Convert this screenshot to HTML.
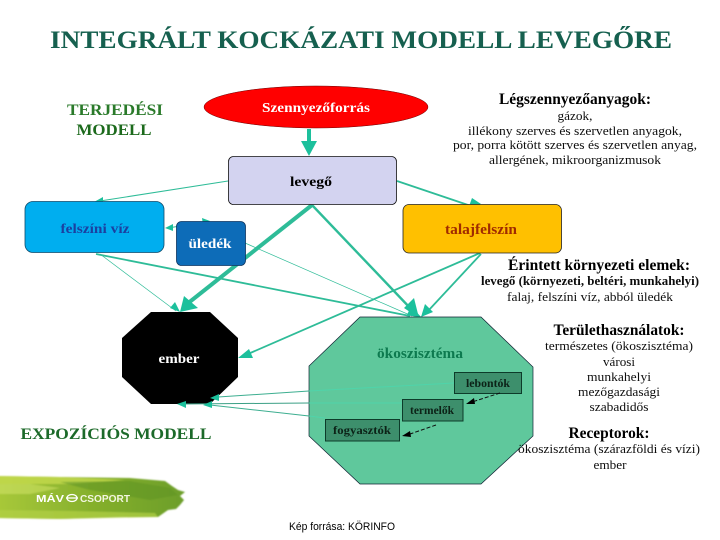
<!DOCTYPE html>
<html>
<head>
<meta charset="utf-8">
<style>
html,body{margin:0;padding:0;background:#fff;width:720px;height:540px;overflow:hidden}
svg{display:block}
text{font-family:"Liberation Serif",serif;text-anchor:middle}
.b{font-weight:bold}
.s{font-family:"Liberation Sans",sans-serif}
.l{stroke:#2fbc98;fill:none}
.a{fill:#1fc09c}
.t{font-size:13px;fill:#111}
.h{font-size:15.5px;font-weight:bold;fill:#000}
</style>
</head>
<body>
<svg width="720" height="540" viewBox="0 0 720 540" xmlns="http://www.w3.org/2000/svg">
<defs>
<linearGradient id="g" x1="0" y1="0" x2="1" y2="0">
<stop offset="0" stop-color="#a9c93a"/><stop offset=".5" stop-color="#86b02c"/><stop offset="1" stop-color="#6c9e2a"/>
</linearGradient>
<filter id="bl" x="-2%" y="-2%" width="104%" height="104%"><feGaussianBlur stdDeviation=".25"/></filter>
<filter id="bl2" x="-5%" y="-20%" width="110%" height="140%"><feGaussianBlur stdDeviation=".9"/></filter>
</defs>

<g filter="url(#bl)">
<text x="361" y="48" class="b" font-size="25" fill="#14614f" textLength="622" lengthAdjust="spacingAndGlyphs">INTEGRÁLT KOCKÁZATI MODELL LEVEGŐRE</text>
<text x="115" y="115" class="b" font-size="16" fill="#2a7a2a" textLength="96" lengthAdjust="spacingAndGlyphs">TERJEDÉSI</text>
<text x="114" y="135" class="b" font-size="16" fill="#1f6b1f" textLength="75" lengthAdjust="spacingAndGlyphs">MODELL</text>
<text x="116" y="439" class="b" font-size="16" fill="#1f6b2a" textLength="191" lengthAdjust="spacingAndGlyphs">EXPOZÍCIÓS MODELL</text>

<!-- connectors under shapes -->
<line x1="228" y1="181" x2="100" y2="201" class="l" stroke-width="1"/>
<polygon class="a" points="94,202 103,197 103,203"/>
<line x1="168" y1="228" x2="205" y2="222" class="l" stroke-width="1"/>
<polygon class="a" points="165,228 173,224 173,231"/>
<polygon class="a" points="210,221 202,218 203,225"/>

<line x1="96" y1="254" x2="410" y2="316" class="l" stroke-width="1.8"/>
<line x1="100" y1="254" x2="176" y2="311" class="l" stroke-width=".7"/>
<polygon class="a" points="180,312 170,308 175,302"/>
<line x1="245" y1="243" x2="412" y2="316" class="l" stroke-width=".7"/>
<polygon class="a" points="422,318 407,315 411,306"/>

<line x1="312" y1="205" x2="187" y2="304" class="l" stroke-width="4"/>
<polygon class="a" points="180,312 184,296 198,308"/>
<line x1="312" y1="205" x2="412" y2="310" class="l" stroke-width="2.4"/>
<polygon class="a" points="419,318 404,308 414,298"/>
<line x1="481" y1="254" x2="428" y2="311" class="l" stroke-width="1.8"/>
<polygon class="a" points="421,317 425,304 433,312"/>
<line x1="480" y1="253" x2="248" y2="354" class="l" stroke-width="1.8"/>
<polygon class="a" points="238,358 249,349 253,358"/>
<line x1="397" y1="181" x2="474" y2="207" class="l" stroke-width="1.8"/>
<polygon class="a" points="481,204 468,209 472,198"/>
<line x1="309" y1="129" x2="309" y2="143" stroke="#1fc09c" stroke-width="4"/>
<polygon class="a" points="301,141 317,141 309,156"/>

<!-- shapes -->
<ellipse cx="316" cy="107" rx="112" ry="21" fill="#f00" stroke="#600" stroke-width=".5"/>
<text x="316" y="112" class="b" font-size="14" fill="#fff" textLength="108" lengthAdjust="spacingAndGlyphs">Szennyezőforrás</text>

<rect x="228.500" y="156.500" width="168" height="48" rx="5" fill="#d3d3f0" stroke="#111" stroke-width=".8"/>
<text x="311" y="186" class="b" font-size="14" fill="#000" textLength="42" lengthAdjust="spacingAndGlyphs">levegő</text>

<rect x="25" y="201.500" width="139" height="51" rx="8" fill="#00aeef" stroke="#0b4a6a" stroke-width=".8"/>
<text x="95" y="233" class="b" font-size="14" fill="#1a3fa0" textLength="69" lengthAdjust="spacingAndGlyphs">felszíni víz</text>

<rect x="176.500" y="221.500" width="69" height="44" rx="5" fill="#0f6cb8" stroke="#0a3560" stroke-width=".8"/>
<text x="210" y="248" class="b" font-size="14" fill="#fff" textLength="43" lengthAdjust="spacingAndGlyphs">üledék</text>

<rect x="403" y="204.500" width="158.500" height="48.500" rx="6" fill="#ffc000" stroke="#222" stroke-width=".8"/>
<text x="481" y="234" class="b" font-size="14.500" fill="#a02a00" textLength="72" lengthAdjust="spacingAndGlyphs">talajfelszín</text>

<polygon points="151,312 210,312 238,338 238,377 210,404 151,404 122,377 122,338" fill="#000"/>
<text x="179" y="363" class="b" font-size="14" fill="#fff" textLength="41" lengthAdjust="spacingAndGlyphs">ember</text>

<polygon points="360,317 481,317 533,367 533,436 481,484 360,484 309,436 309,366" fill="#5fc89c" stroke="#123" stroke-width=".7"/>
<text x="420" y="358" class="b" font-size="15" fill="#0f7a50" textLength="86" lengthAdjust="spacingAndGlyphs">ökoszisztéma</text>

<!-- eco to ember -->
<line x1="309" y1="391" x2="218" y2="397" stroke="#3cae90" stroke-width="1"/>
<line x1="454" y1="383" x2="309" y2="391" stroke="#4fd4aa" stroke-width="1"/>
<polygon class="a" points="210,398 219,394 219,401"/>
<line x1="309" y1="403" x2="183" y2="404" stroke="#3a9f85" stroke-width="1"/>
<line x1="402" y1="403" x2="309" y2="403" stroke="#4fd4aa" stroke-width="1"/>
<polygon class="a" points="177,404 186,401 186,408"/>
<line x1="309" y1="416" x2="210" y2="405" stroke="#3cae90" stroke-width="1"/>
<line x1="325" y1="418" x2="309" y2="416" stroke="#4fd4aa" stroke-width="1"/>
<polygon class="a" points="203,405 212,401 212,408"/>

<rect x="454.500" y="372.500" width="67" height="21" fill="#3c8f6c" stroke="#0e3a2c"/>
<text x="488" y="387" class="b" font-size="11.500" fill="#0a2018" textLength="44" lengthAdjust="spacingAndGlyphs">lebontók</text>
<rect x="402.500" y="399.500" width="60.500" height="21.500" fill="#3c8f6c" stroke="#0e3a2c"/>
<text x="432" y="414" class="b" font-size="11.500" fill="#0a2018" textLength="44" lengthAdjust="spacingAndGlyphs">termelők</text>
<rect x="325.500" y="419.500" width="74" height="21.500" fill="#3c8f6c" stroke="#0e3a2c"/>
<text x="362" y="434" class="b" font-size="11.500" fill="#0a2018" textLength="58" lengthAdjust="spacingAndGlyphs">fogyasztók</text>

<line x1="500" y1="393" x2="472" y2="402" stroke="#111" stroke-width="1" stroke-dasharray="4 2"/>
<polygon points="466,404 474,398 475,404" fill="#000"/>
<line x1="436" y1="425" x2="410" y2="434" stroke="#111" stroke-width="1" stroke-dasharray="4 2"/>
<polygon points="402,436 410,431 411,437" fill="#000"/>

<!-- right-side text -->
<text x="575" y="104" class="h" textLength="152" lengthAdjust="spacingAndGlyphs">Légszennyezőanyagok:</text>
<text x="575" y="120" class="t" textLength="35" lengthAdjust="spacingAndGlyphs">gázok,</text>
<text x="575" y="135" class="t" textLength="214" lengthAdjust="spacingAndGlyphs">illékony szerves és szervetlen anyagok,</text>
<text x="575" y="149" class="t" textLength="244" lengthAdjust="spacingAndGlyphs">por, porra kötött szerves és szervetlen anyag,</text>
<text x="575" y="164" class="t" textLength="172" lengthAdjust="spacingAndGlyphs">allergének, mikroorganizmusok</text>

<text x="599" y="270" class="h" textLength="182" lengthAdjust="spacingAndGlyphs">Érintett környezeti elemek:</text>
<text x="590" y="285" class="b" font-size="13" fill="#111" textLength="218" lengthAdjust="spacingAndGlyphs">levegő (környezeti, beltéri, munkahelyi)</text>
<text x="590" y="301" class="t" textLength="166" lengthAdjust="spacingAndGlyphs">falaj, felszíni víz, abból üledék</text>

<text x="619" y="335" class="h" textLength="131" lengthAdjust="spacingAndGlyphs">Területhasználatok:</text>
<text x="619" y="350" class="t" textLength="148" lengthAdjust="spacingAndGlyphs">természetes (ökoszisztéma)</text>
<text x="619" y="366" class="t" textLength="32" lengthAdjust="spacingAndGlyphs">városi</text>
<text x="619" y="381" class="t" textLength="64" lengthAdjust="spacingAndGlyphs">munkahelyi</text>
<text x="619" y="396" class="t" textLength="82" lengthAdjust="spacingAndGlyphs">mezőgazdasági</text>
<text x="619" y="411" class="t" textLength="59" lengthAdjust="spacingAndGlyphs">szabadidős</text>

<text x="609" y="438" class="h" textLength="81" lengthAdjust="spacingAndGlyphs">Receptorok:</text>
<text x="609" y="453" class="t" textLength="182" lengthAdjust="spacingAndGlyphs">ökoszisztéma (szárazföldi és vízi)</text>
<text x="610" y="469" class="t" textLength="33" lengthAdjust="spacingAndGlyphs">ember</text>
</g>

<!-- logo brush -->
<g filter="url(#bl2)">
<path d="M-5,476 L60,477 L130,478 L165,481 L172,486 L178,490 L185,492 L180,496 L184,500 L180,505 L176,509 L168,510 L158,517 L120,517 L60,519 L-5,518 Z" fill="url(#g)"/>
<path d="M-5,476 L60,477 L125,480 L70,484 L-5,484 Z" fill="#c4da4c" opacity=".8"/>
<path d="M-5,484 L30,484 L60,488 L30,494 L-5,494 Z" fill="#d2e468" opacity=".55"/>
<path d="M60,482 L130,481 L170,488 L178,495 L150,500 L90,490 Z" fill="#5f9326" opacity=".55"/>
<path d="M-5,510 L70,511 L155,513 L158,517 L60,519 L-5,518 Z" fill="#b2d044" opacity=".7"/>
</g>
<g filter="url(#bl)">
<text x="50" y="502" class="b s" font-size="10" fill="#fff" textLength="28" lengthAdjust="spacingAndGlyphs">MÁV</text>
<ellipse cx="72" cy="498" rx="5" ry="3.500" fill="none" stroke="#fff" stroke-width="1.300"/>
<line x1="66" y1="498" x2="78" y2="498" stroke="#fff" stroke-width="1.300"/>
<text x="105" y="502" class="b s" font-size="10" fill="#f2f6e0" textLength="50" lengthAdjust="spacingAndGlyphs">CSOPORT</text>
</g>

<text x="342" y="530" class="s" font-size="11" fill="#000" textLength="106" lengthAdjust="spacingAndGlyphs">Kép forrása: KÖRINFO</text>
</svg>
</body>
</html>
